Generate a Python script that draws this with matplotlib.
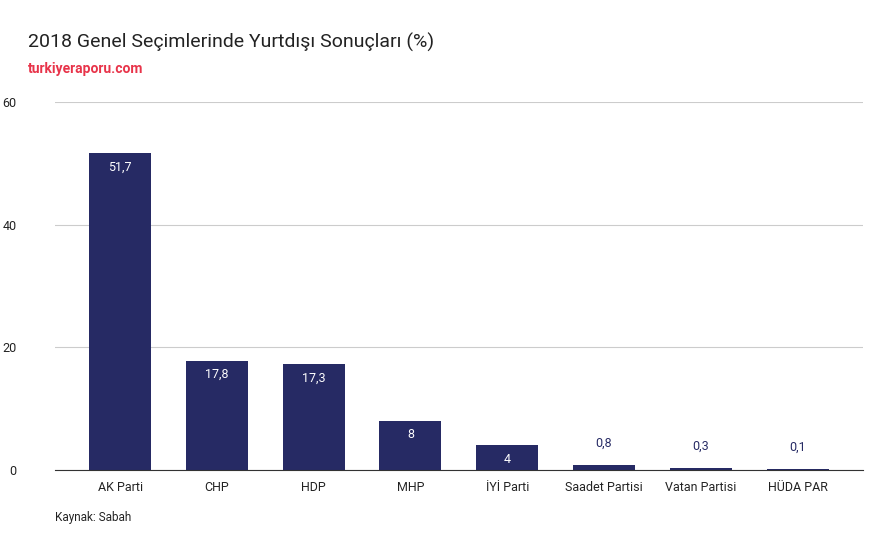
import matplotlib.pyplot as plt

parties = ["AK Parti", "CHP", "HDP", "MHP", "İYİ Parti", "Saadet Partisi", "Vatan Partisi", "HÜDA PAR"]
values = [51.7, 17.8, 17.3, 8, 4, 0.8, 0.3, 0.1]
labels = ["51,7", "17,8", "17,3", "8", "4", "0,8", "0,3", "0,1"]
yticks = [0, 20, 40, 60]

navy = "#262a64"
plt.rcParams["font.family"] = "Roboto"

fig = plt.figure(figsize=(8.91, 5.52), dpi=100)
ax = fig.add_axes([0.062, 0.1486, 0.907, 0.6664])

x = range(len(parties))
ax.bar(x, values, width=0.64, color=navy, zorder=2)
for i, (v, lab) in enumerate(zip(values, labels)):
    if v > 3:
        ax.text(i, v - 1.2, lab, ha="center", va="top", color="white", fontsize=9)
    else:
        ax.text(i, v + 2.5, lab, ha="center", va="bottom", color=navy, fontsize=9)

ax.set_xlim(-0.67, 7.68)
ax.set_ylim(0, 60)
ax.set_yticks(yticks)
ax.set_yticklabels([str(t) for t in yticks], fontsize=9)
ax.set_xticks(list(x))
ax.set_xticklabels(parties, fontsize=9)
ax.grid(axis="y", color="#cccccc", linewidth=0.8, zorder=0)
for s in ["top", "right", "left"]:
    ax.spines[s].set_visible(False)
ax.spines["bottom"].set_color("#333333")
ax.tick_params(axis="both", length=0, colors="#222222")
ax.tick_params(axis="x", pad=8)
ax.tick_params(axis="y", pad=28)

fig.text(0.031, 0.913, "2018 Genel Seçimlerinde Yurtdışı Sonuçları (%)", fontsize=14, color="#222222")
fig.text(0.031, 0.868, "turkiyeraporu.com", fontsize=10, color="#e8344a", fontweight="bold")
fig.text(0.062, 0.056, "Kaynak: Sabah", fontsize=8.5, color="#222222")

fig.savefig("out.png", dpi=100)
